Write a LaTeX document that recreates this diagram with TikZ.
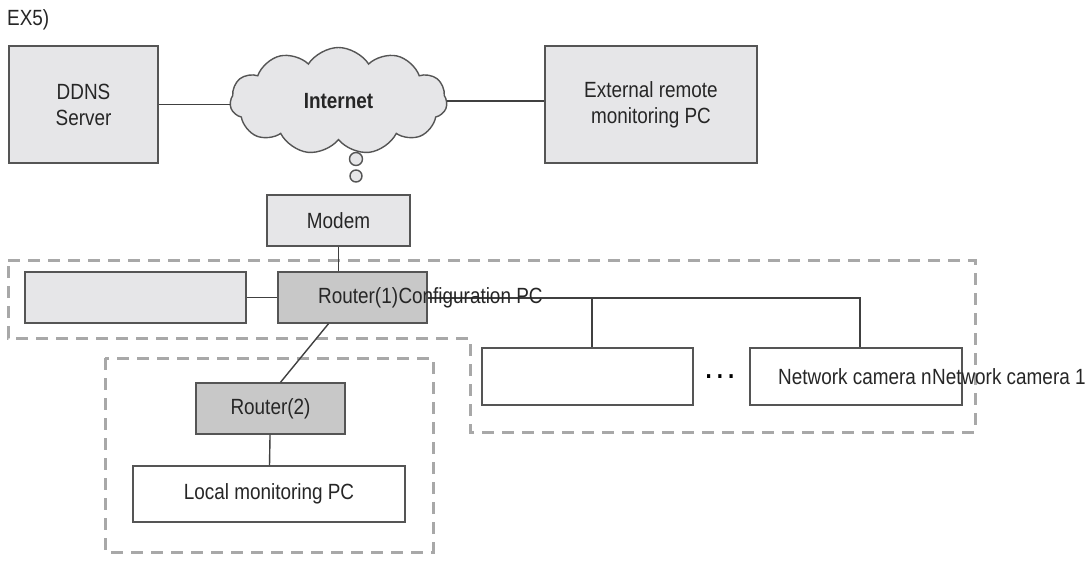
\documentclass[tikz,border=0pt]{standalone}
\usepackage{fontspec}
\setmainfont[FakeStretch=0.86]{Liberation Sans}
\usepackage{tikz}
\usetikzlibrary{shapes.symbols,positioning}
\definecolor{boxlight}{HTML}{E6E6E8}
\definecolor{boxdark}{HTML}{C8C8C8}
\definecolor{edgegray}{HTML}{555555}
\definecolor{zonegray}{HTML}{A8A8A8}

\begin{document}
\begin{tikzpicture}[x=1pt,y=-1pt,font=\fontsize{22}{26}\selectfont,
    unit/.style={draw=edgegray,line width=1.4pt,inner sep=0pt,text=black!85},
    light/.style={unit,fill=boxlight},
    dark/.style={unit,fill=boxdark},
    plain/.style={unit,fill=white},
    zone/.style={draw=zonegray,line width=3pt,dash pattern=on 12pt off 8pt},
    link/.style={draw=black!75,line width=1.4pt}]
    \useasboundingbox(0,0)rectangle(1090,562);
    \node[anchor=west,inner sep=0,text=black!85](ex)at(7,20){EX5)};
    \node[light,minimum width=149pt,minimum height=117pt,align=center](ddns)at(83.5,104.5){DDNS\\Server};
    \node[light,cloud,cloud puffs=11,cloud puff arc=115,aspect=2,minimum width=217pt,minimum height=107pt,font=\fontsize{22}{26}\selectfont\bfseries](net)at(338.5,101){Internet};
    \node[light,minimum width=212pt,minimum height=117pt,align=center](ext)at(651,104.5){External remote\\monitoring PC};
    \node[unit,circle,fill=boxlight,minimum size=13pt](bub1)at(356,159){};\node[unit,circle,fill=boxlight,minimum size=12pt](bub2)at(356,176){};
    \node[light,minimum width=143pt,minimum height=51pt](modem)at(338.5,220.5){Modem};
    \draw[zone](8,260)--(975,260)--(975,432)--(470,432)--(470,338)--(8,338)--cycle;
    \draw[zone](105,358)rectangle(433,552);
    \node[light,minimum width=221pt,minimum height=51pt](cfg)at(135.5,297.5){};
    \node[dark,minimum width=149pt,minimum height=51pt](r1)at(352.5,297.5){};
    \node[plain,minimum width=211pt,minimum height=57pt](cam1)at(587.5,376.5){};
    \node[plain,minimum width=212pt,minimum height=57pt](camn)at(856,376.5){};
    \node[dark,minimum width=149pt,minimum height=51pt](r2)at(270.5,408.5){Router(2)};
    \node[plain,minimum width=272pt,minimum height=56pt](local)at(269,494){Local monitoring PC};
    \node[font=\fontsize{26}{26}\selectfont\bfseries,inner sep=0](dots)at(720,377){.\hspace{5pt}.\hspace{5pt}.};
    \coordinate(tapn)at(592,298);\coordinate(tap1)at(860,298);
    \draw[link](ddns.east)--(ddns.east-|net.west);\draw[link](net.east)--(net.east-|ext.west);
    \draw[link](modem.south)--(modem.south|-r1.north);\draw[link](cfg)--(r1);
    \draw[link](r1.east|-tapn)--(tap1)--(tap1|-camn.north);\draw[link](tapn)--(tapn|-cam1.north);
    \draw[link]([xshift=-24pt]r1.south)--([xshift=10pt]r2.north);
    \draw[link](r2)--(local);
    \node[anchor=west,inner sep=0,text=black!85](r1lbl)at(318,297.5){Router(1)};
    \node[anchor=base west,inner sep=0,text=black!85](cfglbl)at(r1lbl.base east){Configuration PC};
    \node[anchor=west,inner sep=0,text=black!85](camnlbl)at(778,377){Network camera n};
    \node[anchor=base west,inner sep=0,text=black!85](cam1lbl)at(camnlbl.base east){Network camera 1};
\end{tikzpicture}
\end{document}
